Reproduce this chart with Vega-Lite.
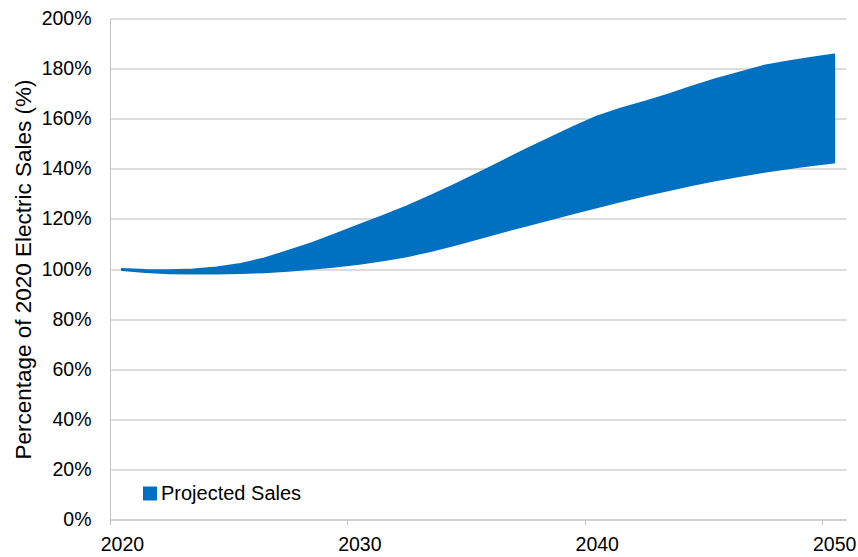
{
  "$schema": "https://vega.github.io/schema/vega-lite/v6.json",
  "width": 736,
  "height": 501,
  "autosize": {"type": "none"},
  "padding": {"left": 110, "top": 18.5, "right": 12, "bottom": 37.5},
  "background": "white",
  "config": {"view": {"stroke": null}, "font": "Liberation Sans"},
  "data": {
    "values": [
      {"year": 2020, "low": 99.6, "high": 100.0, "series": "Projected Sales"},
      {"year": 2021, "low": 98.8, "high": 99.6, "series": "Projected Sales"},
      {"year": 2022, "low": 98.3, "high": 99.5, "series": "Projected Sales"},
      {"year": 2023, "low": 98.2, "high": 99.8, "series": "Projected Sales"},
      {"year": 2024, "low": 98.2, "high": 100.6, "series": "Projected Sales"},
      {"year": 2025, "low": 98.4, "high": 102.0, "series": "Projected Sales"},
      {"year": 2026, "low": 98.7, "high": 104.2, "series": "Projected Sales"},
      {"year": 2027, "low": 99.3, "high": 107.2, "series": "Projected Sales"},
      {"year": 2028, "low": 100.1, "high": 110.3, "series": "Projected Sales"},
      {"year": 2029, "low": 101.0, "high": 113.9, "series": "Projected Sales"},
      {"year": 2030, "low": 102.1, "high": 117.6, "series": "Projected Sales"},
      {"year": 2031, "low": 103.5, "high": 121.2, "series": "Projected Sales"},
      {"year": 2032, "low": 105.1, "high": 125.0, "series": "Projected Sales"},
      {"year": 2033, "low": 107.2, "high": 129.2, "series": "Projected Sales"},
      {"year": 2034, "low": 109.6, "high": 133.6, "series": "Projected Sales"},
      {"year": 2035, "low": 112.2, "high": 138.2, "series": "Projected Sales"},
      {"year": 2036, "low": 114.8, "high": 142.9, "series": "Projected Sales"},
      {"year": 2037, "low": 117.3, "high": 147.6, "series": "Projected Sales"},
      {"year": 2038, "low": 119.7, "high": 152.1, "series": "Projected Sales"},
      {"year": 2039, "low": 122.2, "high": 156.6, "series": "Projected Sales"},
      {"year": 2040, "low": 124.6, "high": 160.8, "series": "Projected Sales"},
      {"year": 2041, "low": 127.0, "high": 164.0, "series": "Projected Sales"},
      {"year": 2042, "low": 129.3, "high": 166.7, "series": "Projected Sales"},
      {"year": 2043, "low": 131.4, "high": 169.6, "series": "Projected Sales"},
      {"year": 2044, "low": 133.5, "high": 172.8, "series": "Projected Sales"},
      {"year": 2045, "low": 135.4, "high": 175.8, "series": "Projected Sales"},
      {"year": 2046, "low": 137.1, "high": 178.4, "series": "Projected Sales"},
      {"year": 2047, "low": 138.7, "high": 181.0, "series": "Projected Sales"},
      {"year": 2048, "low": 140.1, "high": 182.7, "series": "Projected Sales"},
      {"year": 2049, "low": 141.4, "high": 184.2, "series": "Projected Sales"},
      {"year": 2050, "low": 142.5, "high": 185.6, "series": "Projected Sales"}
    ]
  },
  "mark": {"type": "area", "stroke": "#0070C0", "strokeWidth": 2, "strokeJoin": "round", "opacity": 1},
  "encoding": {
    "x": {
      "field": "year",
      "type": "quantitative",
      "scale": {"domain": [2019.5, 2050.5], "nice": false, "zero": false},
      "axis": {
        "values": [2019.5, 2029.5, 2039.5, 2049.5],
        "labelExpr": "format(datum.value + 0.5, 'd')",
        "labelOffset": 11.9,
        "labelFontSize": 19.5,
        "labelColor": "#000000",
        "labelPadding": 11,
        "labelFlush": false,
        "labelOverlap": false,
        "tickSize": 5,
        "tickColor": "#c4c4c4",
        "domainColor": "#c4c4c4",
        "grid": false,
        "title": null
      }
    },
    "y": {
      "field": "high",
      "type": "quantitative",
      "scale": {"domain": [0, 200], "nice": false},
      "axis": {
        "values": [0, 20, 40, 60, 80, 100, 120, 140, 160, 180, 200],
        "labelExpr": "datum.value + '%'",
        "ticks": false,
        "tickSize": 0,
        "labelPadding": 19,
        "labelFontSize": 19.5,
        "labelColor": "#000000",
        "grid": true,
        "gridColor": "#d0d0d0",
        "gridWidth": 1.3,
        "domainColor": "#c4c4c4",
        "title": "Percentage of 2020 Electric Sales (%)",
        "titleFontSize": 22.5,
        "titleFontWeight": "normal",
        "titleColor": "#000000",
        "titlePadding": 6
      }
    },
    "y2": {"field": "low"},
    "color": {
      "field": "series",
      "type": "nominal",
      "scale": {"range": ["#0070C0"]},
      "legend": {
        "orient": "none",
        "legendX": 30,
        "legendY": 465,
        "title": null,
        "padding": 0,
        "symbolType": "square",
        "symbolSize": 196,
        "symbolStrokeWidth": 0,
        "symbolOpacity": 1,
        "labelFontSize": 20,
        "labelColor": "#000000",
        "labelOffset": 1
      }
    }
  }
}
